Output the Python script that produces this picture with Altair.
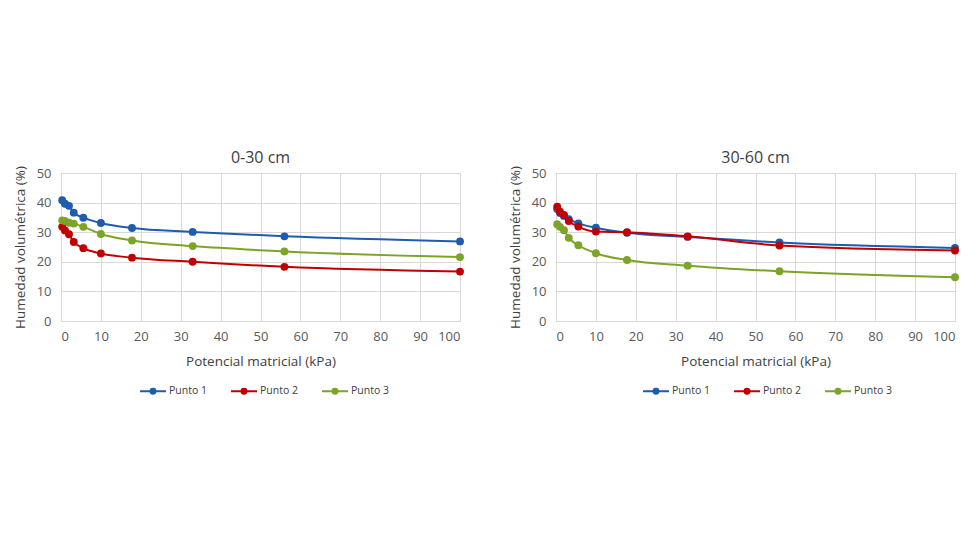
import altair as alt
import pandas as pd

kpa = [0.3, 1, 2, 3.2, 5.6, 10, 17.8, 33, 56, 100]
series = ["Punto 1", "Punto 2", "Punto 3"]
colors = ["#1F5BAE", "#C00000", "#7BA428"]

top_p1 = [40.8, 39.6, 38.9, 36.6, 34.9, 33.1, 31.4, 30.1, 28.6, 26.9]
top_p2 = [31.8, 30.6, 29.3, 26.7, 24.6, 22.8, 21.4, 20.0, 18.3, 16.7]
top_p3 = [34.0, 33.8, 33.2, 32.9, 31.8, 29.4, 27.2, 25.3, 23.5, 21.6]

deep_p1 = [37.8, 36.5, 35.5, 34.4, 33.0, 31.5, 29.8, 28.4, 26.5, 24.7]
deep_p2 = [38.6, 36.9, 35.8, 33.8, 31.9, 30.2, 30.0, 28.6, 25.5, 23.8]
deep_p3 = [32.7, 31.8, 30.7, 28.1, 25.6, 22.9, 20.6, 18.7, 16.8, 14.8]

x_ticks = list(range(0, 101, 10))
y_ticks = list(range(0, 51, 10))

FONT = "Open Sans"
TXT = "#404040"
GRID = "#D9D9D9"

LEGEND_PATH = ("M-1,0L1,0"
               "M-0.19,0a0.19,0.19 0 1,0 0.38,0a0.19,0.19 0 1,0 -0.38,0"
               "M-0.08,0a0.08,0.08 0 1,0 0.16,0a0.08,0.08 0 1,0 -0.16,0")


def make_df(vals):
    rows = []
    for name, ys in zip(series, vals):
        for x, y in zip(kpa, ys):
            rows.append({"kPa": x, "hum": y, "serie": name})
    return pd.DataFrame(rows)


def panel(df, title, legend_x):
    color = alt.Color(
        "serie:N",
        scale=alt.Scale(domain=series, range=colors),
        legend=alt.Legend(
            title=None, orient="none", direction="horizontal",
            legendX=legend_x, legendY=204,
            symbolType=LEGEND_PATH, symbolSize=676, symbolStrokeWidth=2,
            labelFont=FONT, labelFontSize=10.5, labelColor=TXT,
            columnPadding=20, labelOffset=2,
        ),
    )
    base = alt.Chart(df).encode(
        x=alt.X("kPa:Q", title="Potencial matricial (kPa)",
                scale=alt.Scale(domain=[0, 100], nice=False),
                axis=alt.Axis(values=x_ticks, grid=True, labelPadding=9, titlePadding=11)),
        y=alt.Y("hum:Q", title="Humedad volumétrica (%)",
                scale=alt.Scale(domain=[0, 50], nice=False),
                axis=alt.Axis(values=y_ticks, grid=True, labelPadding=10, titlePadding=9)),
        color=color,
    )
    lines = base.mark_line(strokeWidth=2, interpolate="monotone")
    pts = base.mark_point(filled=True, size=62, opacity=1)
    return alt.layer(lines, pts).properties(
        width=399, height=148,
        title=alt.TitleParams(title, font=FONT, fontSize=16, fontWeight="normal",
                              color=TXT, offset=0),
    )


left = panel(make_df([top_p1, top_p2, top_p3]), "0-30 cm", 78)
right = panel(make_df([deep_p1, deep_p2, deep_p3]), "30-60 cm", 86)

chart = alt.hconcat(left, right, spacing=42).resolve_scale(color="independent").properties(
    padding={"left": 4, "top": 141, "right": 5, "bottom": 5},
    background="white",
).configure_view(stroke=GRID).configure_axis(
    labelFont=FONT, labelFontSize=13, labelColor="#595959",
    titleFont=FONT, titleFontSize=13.5, titleColor=TXT, titleFontWeight="normal",
    gridColor=GRID, domainColor=GRID, ticks=False,
)

chart.save("out.html", embed_options={"renderer": "svg", "actions": False})
